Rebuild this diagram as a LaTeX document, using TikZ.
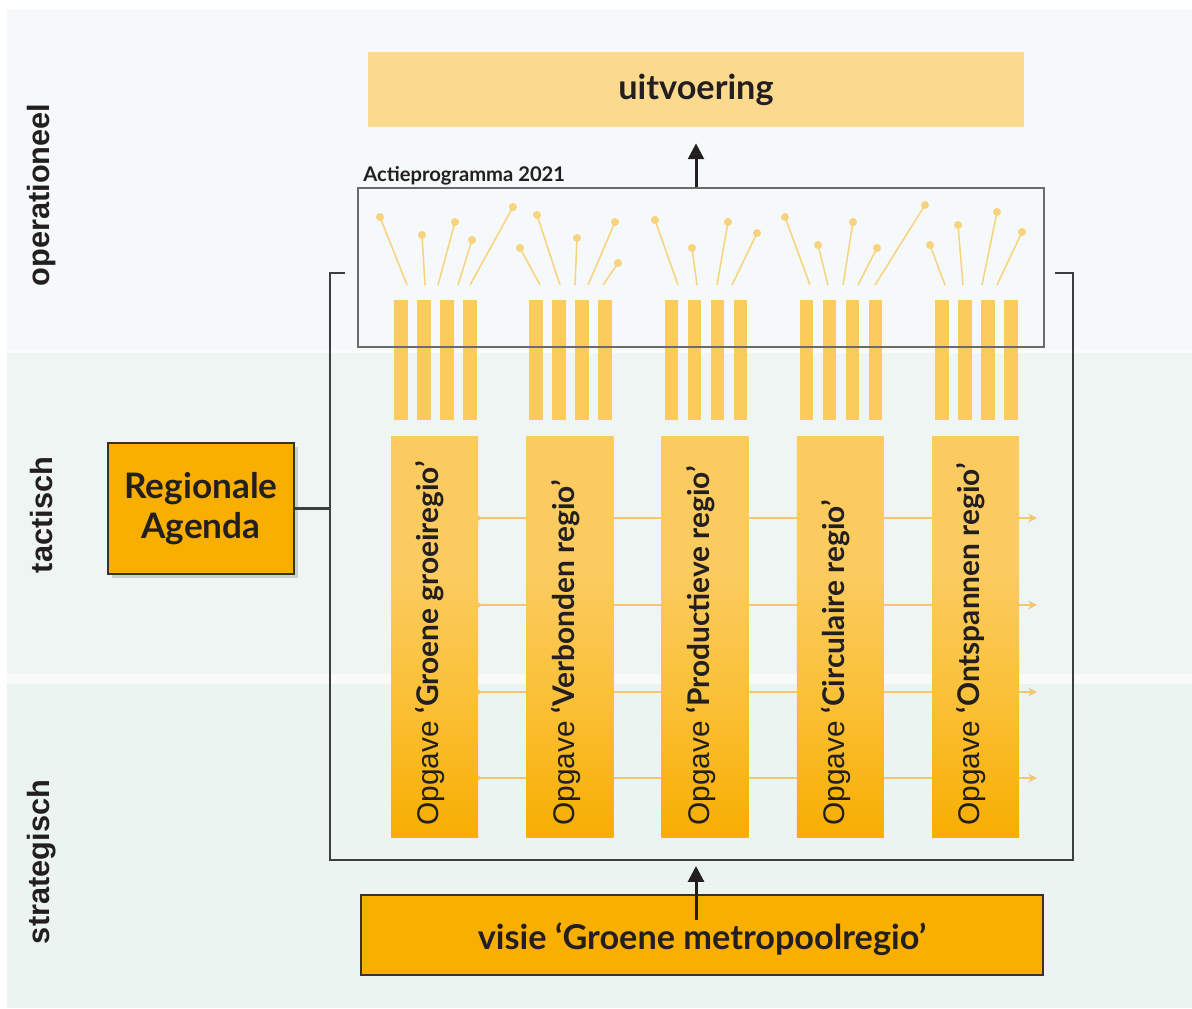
\documentclass[tikz,border=0pt]{standalone}
\usepackage{fontspec}
\setmainfont{Lato}
\newfontfamily\helv{Liberation Sans}
\usetikzlibrary{arrows.meta,fit,shadows}
\definecolor{bandA}{HTML}{F5F9F9}
\definecolor{bandB}{HTML}{EEF5F3}
\definecolor{bandC}{HTML}{ECF4F1}
\definecolor{uitvC}{HTML}{FBD98E}
\definecolor{orangeD}{HTML}{F9AF00}
\definecolor{colTop}{HTML}{FBCB60}
\definecolor{colMid}{HTML}{FAC036}
\definecolor{colBot}{HTML}{F8AE02}
\definecolor{barC}{HTML}{FBCB5E}
\definecolor{pinC}{HTML}{F8D27C}
\definecolor{hlineC}{HTML}{F4C66E}
\definecolor{inkC}{HTML}{231F20}
\definecolor{brdC}{HTML}{3A3226}
\definecolor{brkC}{HTML}{3B3F3F}
\pgfdeclareverticalshading{colshade}{100bp}{color(0bp)=(colBot); color(25bp)=(colBot); color(42bp)=(colMid); color(58bp)=(colTop); color(100bp)=(colTop)}
\begin{document}
\begin{tikzpicture}[x=0.02cm,y=-0.02cm,
  sidelabel/.style={rotate=90,font=\helv\bfseries\fontsize{17.5}{19}\selectfont,text=inkC},
  bigbox/.style={inner sep=0pt,text=inkC,font=\bfseries\fontsize{19.5}{22}\selectfont},
  colbox/.style={inner sep=0pt,shading=colshade},
  opgtxt/.style={rotate=90,anchor=mid west,inner sep=0pt,text=inkC,font=\fontsize{17}{19}\selectfont},
  bigarrow/.style={draw=inkC,line width=1.7pt,-{Triangle[width=9pt,length=9pt]}},
  bracket/.style={draw=brkC,line width=1.6pt},
  hline/.style={draw=hlineC,line width=1.1pt,-{Stealth[length=5pt,width=5pt]}},
  pin/.style={draw=pinC,line width=0.85pt},
]
\useasboundingbox (0,0) rectangle (1192,1008);
% background bands
\fill[white] (0,0) rectangle (1192,1008);
\fill[bandA] (7,10) rectangle (1192,350);
\fill[white!50!bandA] (7,350) rectangle (1192,353);
\fill[bandB] (7,353) rectangle (1192,674);
\fill[white!60!bandB] (7,674) rectangle (1192,684);
\fill[bandC] (7,684) rectangle (1192,1008);
% side labels
\node[sidelabel] (lop) at (42,195) {operationeel};
\node[sidelabel] (lta) at (42,515) {tactisch};
\node[sidelabel] (lst) at (42,862) {strategisch};
% uitvoering
\node[bigbox,fill=uitvC,fit={(368,52) (1024,127)}] (uitv) {};
\node[bigbox] (uitvt) at (uitv.center) {uitvoering};
% horizontal connectors behind columns
\foreach \k/\yy in {1/518,2/605,3/692,4/778}{
  \coordinate (hs\k) at (478,\yy);
  \coordinate (he\k) at (1037,\yy);
  \fill[hlineC] (hs\k) circle (2.5);
  \draw[hline] (hs\k) -- (he\k);
}
% columns
\foreach \i/\txt in {0/{‘Groene groeiregio’},1/{‘Verbonden regio’},2/{‘Productieve regio’},3/{‘Circulaire regio’},4/{‘Ontspannen regio’}}{
  \node[colbox,fit={({391+135.25*\i},436) ({478+135.25*\i},837)}] (c\i) {};
  \node[opgtxt] (t\i) at ({434.5+135.25*\i},826) {{\helv Opgave} \textbf{\txt}};
  \foreach \j in {0,1,2,3}{
    \fill[barC] ({394+135.25*\i+23*\j},300) rectangle ({407.5+135.25*\i+23*\j},420);
  }
}
% Actieprogramma box
\node[inner sep=0pt,draw=black!58,line width=0.8pt,fit={(358,188) (1044,347)}] (act) {};
\node[anchor=base west,inner sep=0pt,text=inkC,font=\bfseries\fontsize{11.5}{13}\selectfont] (actl) at (363,181) {Actieprogramma 2021};
% pins
\foreach \bx/\tx/\ty in {407/380/217,425/422/235,438/455/222,458/472/240,470/513/207,
  540/520/248,560/537/215,575/577/238,588/615/222,603/618/263,
  678/655/220,697/692/248,717/728/222,732/757/233,
  810/785/217,828/818/245,843/853/222,858/877/248,875/925/205,
  945/930/245,963/958/225,982/997/212,997/1022/232}{
  \draw[pin] (\bx,285) -- (\tx,\ty);
  \fill[pinC] (\tx,\ty) circle (4);
}
% arrow to uitvoering
\draw[bigarrow,shorten >=0.32cm] (act.north -| uitv.south) -- (uitv.south);
% bracket
\coordinate (bkl) at (345,273);
\coordinate (bkr) at (1055,273);
\draw[bracket] (bkl) -- (330,273) -- (330,860) -- (1073,860) -- (1073,273) -- (bkr);
% Regionale Agenda
\node[bigbox,fill=orangeD,draw=brdC,line width=1.6pt,
  drop shadow={shadow xshift=2pt,shadow yshift=-2pt,opacity=0.3},fit={(108,443) (294,574)}] (ra) {};
\node[bigbox,align=center,font=\bfseries\fontsize{20}{22.5}\selectfont] (rat) at (ra.center) {Regionale\\Agenda};
\draw[bracket] (ra.east) -- (ra.east -| 330,0);
% visie
\node[bigbox,fill=orangeD,draw=brdC,line width=1pt,fit={(361,895) (1043,975)}] (vis) {};
\node[bigbox] (vist) at ([yshift=-0.08cm]vis.center) {visie ‘Groene metropoolregio’};
\coordinate (vs) at (696,920);
\coordinate (vt) at (696,866);
\draw[bigarrow] (vs) -- (vt);
\end{tikzpicture}
\end{document}
